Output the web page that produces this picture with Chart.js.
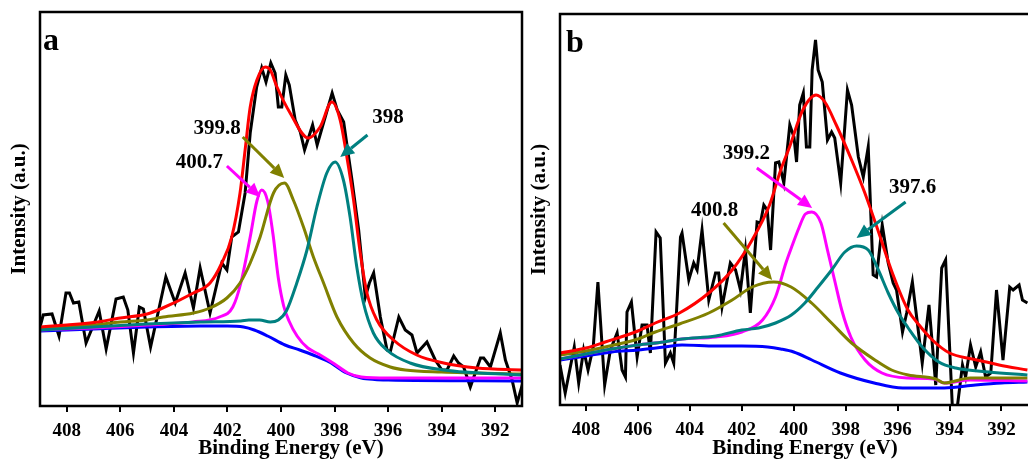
<!DOCTYPE html>
<html>
<head>
<meta charset="utf-8">
<script src="https://cdn.jsdelivr.net/npm/chart.js@4.4.0/dist/chart.umd.min.js"></script>
<style>
    html, body { margin: 0; padding: 0; background: #fff; overflow: hidden; width: 1028px; height: 462px; }
    #grafico-a { position: absolute; left: 0; top: 0; }
    #grafico-b { position: absolute; left: 520px; top: 0; }
</style>
</head>
<body>
<canvas id="grafico-a" width="530" height="462"></canvas>
<canvas id="grafico-b" width="516" height="462"></canvas>
<script>
// ticks do eixo x (eV)
const xTicks = [408, 406, 404, 402, 400, 398, 396, 394, 392];

// ---------- painel a : [energia, intensidade] ----------
const aRaw = [[409.0,79],[408.88,91],[408.55,92],[408.29,70],[408.03,113],[407.9,113],[407.75,103],[407.55,104],[407.28,63],[406.79,95],[406.53,57],[406.16,107],[405.89,109],[405.72,96],[405.51,53],[405.29,99],[405.14,97],[404.87,59],[404.3,129],[403.95,103],[403.58,133],[403.27,98],[403.02,138],[402.65,93],[402.21,143],[402.02,136],[401.84,169],[401.59,174],[401.34,213],[401.15,273],[400.91,319],[400.72,338],[400.56,324],[400.38,343],[400.22,333],[400.1,299],[399.97,299],[399.82,331],[399.69,321],[399.47,286],[399.28,274],[399.12,256],[398.82,281],[398.65,261],[398.09,313],[397.9,296],[397.66,284],[397.35,226],[397.1,176],[396.85,109],[396.7,123],[396.54,133],[396.29,89],[396.04,56],[395.92,54],[395.6,89],[395.36,76],[395.11,71],[394.92,53],[394.55,64],[394.24,46],[393.99,36],[393.8,36],[393.55,50],[393.37,43],[393.18,39],[392.93,19],[392.55,48],[392.43,48],[392.18,39],[391.81,73],[391.62,46],[391.37,26],[391.18,3],[390.94,26]];
const aEnvelope = [[409,79],[408,81],[407,83.5],[406,88],[405,92],[404.5,97],[403.27,113],[402.65,123],[402.21,143],[401.84,169],[401.53,213],[401.34,256],[401.15,299],[400.9,326],[400.59,339],[400.4,336],[400.15,319],[399.66,293],[398.98,268],[398.54,279],[398.1,304],[397.79,286],[397.54,249],[397.29,206],[397.04,153],[396.79,113],[396.42,86],[395.8,66],[394.93,51],[393.93,43],[392.68,38],[391,36]];
const aPico4007 = [[409,76],[407,78],[405,81],[404.3,82],[403.3,84],[402.3,89],[401.8,99],[401.5,123],[401.15,169],[400.9,205],[400.72,216],[400.5,205],[400.3,172],[400.1,128],[399.9,100],[399.7,85],[399.4,70],[399,58],[398.6,52],[398,42],[397.5,33],[397,29],[396,28],[391,28]];
const aPico3998 = [[409,77],[408,79],[407,81],[406,84],[405,86],[404.4,89],[403.27,93],[402.65,98],[402.02,108],[401.53,123],[401.15,143],[400.78,169],[400.28,213],[399.87,223],[399.54,206],[399.16,179],[398.79,149],[398.41,123],[397.91,89],[397.29,63],[396.67,48],[395.92,39],[395.36,36],[394,34],[391,32]];
const aPico398 = [[409,76],[407,79],[405,82],[403,84],[401.5,85],[401.2,86],[400.8,86],[400.4,84],[400.1,86],[399.8,95],[399.41,123],[399.03,156],[398.66,199],[398.29,233],[397.98,244],[397.67,226],[397.42,189],[397.17,139],[396.92,103],[396.55,73],[396.05,56],[395.18,43],[393.93,36],[391,31]];
const aFundo = [[409,75],[407,77],[405,79],[403,80],[402,80],[401.4,79],[401,76],[400.5,70],[399.85,61],[399.3,56],[398.8,51],[398.2,44],[397.55,33],[397,28],[396.5,26.5],[396,26],[391,25]];

// ---------- painel b ----------
const bRaw = [[409,40],[408.8,12],[408.45,58],[408.28,22],[408.09,55],[407.92,35],[407.72,58],[407.54,123],[407.28,20],[407.06,55],[406.8,72],[406.61,35],[406.48,28],[406.42,93],[406.25,103],[406.03,48],[405.84,80],[405.65,80],[405.52,52],[405.3,173],[405.14,167],[404.94,42],[404.75,52],[404.62,42],[404.36,168],[404.3,172],[404.04,125],[403.85,142],[403.72,135],[403.53,175],[403.27,105],[403.01,132],[402.89,132],[402.76,98],[402.44,142],[402.24,135],[402.05,115],[401.86,155],[401.67,92],[401.41,183],[401.28,182],[401.15,200],[401.02,195],[400.89,155],[400.7,242],[400.57,243],[400.38,222],[400.15,280],[399.99,268],[399.89,243],[399.77,300],[399.63,312],[399.51,258],[399.38,258],[399.29,335],[399.16,365],[399.06,335],[398.9,323],[398.7,265],[398.54,273],[398.42,267],[398.19,222],[397.93,315],[397.77,300],[397.51,248],[397.32,228],[397.13,258],[396.94,130],[396.81,128],[396.59,180],[396.36,142],[396.17,122],[396.04,115],[395.81,73],[395.65,92],[395.43,123],[395.05,42],[394.79,100],[394.53,20],[394.3,137],[394.15,145],[393.89,-2],[393.7,-2],[393.5,40],[393.38,28],[393.19,60],[392.99,38],[392.8,53],[392.61,28],[392.41,32],[392.19,115],[391.94,45],[391.68,118],[391.55,115],[391.32,120],[391.19,105],[391.0,102]];
const bEnvelope = [[409,52],[408,57],[407.26,63],[406,74],[405.33,82],[404.4,92],[403.27,112],[402.37,135],[401.6,165],[400.93,200],[400.5,235],[400.16,258],[399.65,295],[399.14,310],[398.8,303],[398.36,280],[397.77,245],[397.26,212],[396.72,172],[396.2,132],[395.6,95],[395.17,80],[394.66,65],[394.0,52],[393.12,46],[392.58,43],[392.09,40],[391,35]];
const bPico4008 = [[409,50],[408,54],[407.26,58],[406,66],[405.33,73],[404.4,81],[403.27,92],[402.37,105],[401.6,118],[400.77,123],[400.1,118],[399.31,102],[398.54,82],[397.77,62],[396.87,45],[396.23,35],[395.59,30],[394.53,26],[394.2,22],[393.2,27],[391,27]];
const bPico3992 = [[409,46],[408,51],[407,56],[406,60],[405,63],[404.3,66],[403,68],[402,73],[401.2,85],[400.7,108],[400.3,142],[400.05,160],[399.8,177],[399.55,191],[399.3,193],[398.95,182],[398.7,155],[398.4,122],[398.15,95],[397.8,68],[397.25,45],[396.6,32],[395.6,27],[394.6,26],[394.2,22],[393.2,25],[391,24]];
const bPico3976 = [[409,46],[408,51],[407,56],[406,60],[405,63],[404.3,66],[403,69],[402,75],[401.35,77],[400.7,82],[400.09,90],[399.57,102],[399.06,118],[398.54,135],[398.03,153],[397.58,159],[397.13,155],[396.74,135],[396.36,112],[395.97,92],[395.59,77],[395.05,58],[394.41,43],[393.76,37],[392.48,33],[391,30]];
const bFundo = [[409,45],[408,49],[407,53],[406,55],[405,58],[404.3,60],[403,59],[402,59],[401,58],[400.5,56],[400,53],[399.3,45],[398.2,32],[396.9,22],[395.8,17],[394.2,17],[393,20],[392,22],[391,23]];

const corVermelho = '#ff0000'
const corMagenta = '#ff00ff'
const corOliva = '#808000'
const corTeal = '#008080'
const corAzul = '#0000ff'
const fonte = '"Liberation Serif", "Times New Roman", serif'
const tituloX = 'Binding Energy (eV)'

// setas e rotulos (em coordenadas de dados)
const setasA = [
    { texto: '399.8', rotulo: [402.39, 277], de: [401.43, 269], ate: [399.88, 228], cor: corOliva },
    { texto: '400.7', rotulo: [403.05, 243], de: [402.02, 240], ate: [400.78, 209], cor: corMagenta },
    { texto: '398', rotulo: [396.0, 288], de: [396.77, 271], ate: [397.79, 249], cor: corTeal }
]
const setasB = [
    { texto: '400.8', rotulo: [403.05, 194], de: [402.7, 182], ate: [400.83, 125], cor: corOliva },
    { texto: '399.2', rotulo: [401.82, 251], de: [401.42, 237], ate: [399.29, 197], cor: corMagenta },
    { texto: '397.6', rotulo: [395.42, 217], de: [395.69, 203], ate: [397.58, 167], cor: corTeal }
]

function desenharSeta(ctx, x0, y0, x1, y1, cor) {
    const ang = Math.atan2(y1 - y0, x1 - x0);
    const tam = 14, larg = 6.5;
    const bx = x1 - tam * Math.cos(ang), by = y1 - tam * Math.sin(ang);
    ctx.strokeStyle = cor;
    ctx.lineWidth = 3;
    ctx.beginPath();
    ctx.moveTo(x0, y0);
    ctx.lineTo(bx, by);
    ctx.stroke();
    ctx.fillStyle = cor;
    ctx.beginPath();
    ctx.moveTo(x1, y1);
    ctx.lineTo(bx + larg * Math.sin(ang), by - larg * Math.cos(ang));
    ctx.lineTo(bx - larg * Math.sin(ang), by + larg * Math.cos(ang));
    ctx.closePath();
    ctx.fill();
}

const pluginDesenhos = {
    id: 'desenhos',
    afterDatasetsDraw(chart, args, opts) {
        const ctx = chart.ctx;
        const area = chart.chartArea;
        const sx = chart.scales.x, sy = chart.scales.y;
        ctx.save();
        // moldura
        ctx.strokeStyle = '#000';
        ctx.lineWidth = 2.5;
        ctx.strokeRect(area.left, area.top, area.right - area.left, area.bottom - area.top);
        // letra do painel
        ctx.fillStyle = '#000';
        ctx.font = 'bold 32px ' + fonte;
        ctx.textAlign = 'left';
        ctx.textBaseline = 'alphabetic';
        ctx.fillText(opts.letra, area.left + opts.dx, area.top + 38);
        // titulo do eixo x (um pouco a direita do centro, como no original)
        ctx.font = 'bold 21px ' + fonte;
        ctx.textAlign = 'center';
        ctx.textBaseline = 'middle';
        ctx.fillText(tituloX, (area.left + area.right) / 2 + 10, chart.height - 13);
        // setas
        for (let i = 0; i < opts.setas.length; i++) {
            const s = opts.setas[i];
            desenharSeta(ctx,
                sx.getPixelForValue(s.de[0]), sy.getPixelForValue(s.de[1]),
                sx.getPixelForValue(s.ate[0]), sy.getPixelForValue(s.ate[1]), s.cor);
            ctx.fillStyle = '#000';
            ctx.fillText(s.texto, sx.getPixelForValue(s.rotulo[0]), sy.getPixelForValue(s.rotulo[1]));
        }
        ctx.restore();
    }
};

function serie(pontos, cor, suave) {
    return {
        data: pontos.map(p => ({ x: p[0], y: p[1] })),
        borderColor: cor,
        borderWidth: 3,
        pointRadius: 0,
        fill: false,
        tension: 0,
        cubicInterpolationMode: suave ? 'monotone' : 'default'
    }
}

function plotarPainel(id, dados, xMin, yMax, alturaX, padTop, padRight, letra, dx, setas) {
    const ctx = document.getElementById(id).getContext('2d');
    return new Chart(ctx, {
        type: 'line',
        data: {
            datasets: [
                serie(dados.envelope, corVermelho, true),
                serie(dados.teal, corTeal, true),
                serie(dados.oliva, corOliva, true),
                serie(dados.magenta, corMagenta, true),
                serie(dados.fundo, corAzul, true),
                serie(dados.raw, '#000', false)
            ]
        },
        options: {
            responsive: false,
            animation: false,
            events: [],
            layout: { padding: { top: padTop, right: padRight, left: 0, bottom: 0 } },
            scales: {
                x: {
                    type: 'linear',
                    reverse: true,
                    min: xMin,
                    max: 409,
                    afterBuildTicks: s => { s.ticks = xTicks.map(v => ({ value: v })) },
                    afterFit: s => { s.height = alturaX },
                    grid: { display: true, drawOnChartArea: false, drawTicks: true, tickLength: 6, color: '#000', lineWidth: 2 },
                    border: { display: false },
                    ticks: { color: '#000', maxRotation: 0, padding: 8, font: { family: fonte, size: 19, weight: 'bold' } },
                    title: { display: false }
                },
                y: {
                    min: 0,
                    max: yMax,
                    afterFit: s => { s.width = 40 },
                    grid: { display: false },
                    border: { display: false },
                    ticks: { display: false },
                    title: { display: true, text: 'Intensity (a.u.)', color: '#000', padding: { top: 7, bottom: 0 }, font: { family: fonte, size: 21, weight: 'bold' } }
                }
            },
            plugins: {
                legend: { display: false },
                tooltip: { enabled: false },
                desenhos: { letra: letra, dx: dx, setas: setas }
            }
        },
        plugins: [pluginDesenhos]
    })
}

plotarPainel('grafico-a', { raw: aRaw, envelope: aEnvelope, magenta: aPico4007, oliva: aPico3998, teal: aPico398, fundo: aFundo },
    391, 394, 56, 12, 8, 'a', 3, setasA)
plotarPainel('grafico-b', { raw: bRaw, envelope: bEnvelope, magenta: bPico3992, oliva: bPico4008, teal: bPico3976, fundo: bFundo },
    390.9, 391, 57, 14, 6, 'b', 6, setasB)
</script>
</body>
</html>
